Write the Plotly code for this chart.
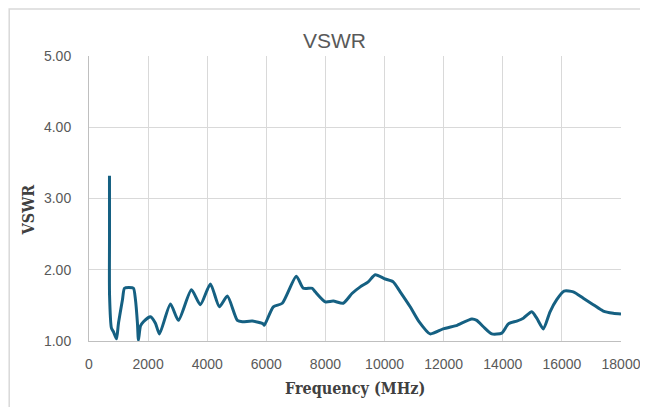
import plotly.graph_objects as go

freq_mhz = [693, 694, 695, 760, 828, 930, 997, 1132, 1200, 1350, 1504, 1572, 1639, 1673,
            1741, 1842, 2079, 2248, 2383, 2755, 3025, 3465, 3769, 4107, 4411, 4681,
            5019, 5188, 5526, 5898, 5932, 6236, 6540, 7014, 7250, 7554, 7656, 7994,
            8264, 8602, 8906, 9177, 9447, 9684, 10022, 10292, 10529, 10867, 11137,
            11543, 11982, 12456, 12557, 12952, 13121, 13344, 13628, 13966, 14189,
            14473, 14696, 14980, 15149, 15372, 15599, 15825, 16072, 16386, 16724,
            17062, 17400, 17738, 18000]
vswr = [3.32, 2.47, 1.65, 1.18, 1.13, 1.03, 1.25, 1.58, 1.74, 1.75, 1.74, 1.58, 1.25, 1.01,
        1.21, 1.27, 1.34, 1.25, 1.10, 1.52, 1.29, 1.72, 1.51, 1.80, 1.48, 1.63,
        1.29, 1.27, 1.28, 1.24, 1.22, 1.48, 1.53, 1.91, 1.74, 1.74, 1.69, 1.55,
        1.56, 1.53, 1.67, 1.76, 1.83, 1.93, 1.87, 1.83, 1.69, 1.48, 1.29,
        1.10, 1.17, 1.22, 1.24, 1.31, 1.29, 1.20, 1.10, 1.11, 1.24,
        1.28, 1.32, 1.41, 1.32, 1.17, 1.41, 1.58, 1.70, 1.69, 1.60,
        1.51, 1.42, 1.39, 1.38]

x_ticks = [0, 2000, 4000, 6000, 8000, 10000, 12000, 14000, 16000, 18000]
y_ticks = [1, 2, 3, 4, 5]

LINE_COLOR = '#156082'
GRID = '#d9d9d9'
TICK_FONT = dict(family='Liberation Sans Narrow, Liberation Sans, Arial', size=14, color='#595959')
LABEL_FONT = dict(family='DejaVu Serif Condensed, Liberation Serif', size=16, color='#404040')

fig = go.Figure()

fig.add_trace(go.Scatter(
    x=freq_mhz,
    y=vswr,
    mode='lines',
    line=dict(color=LINE_COLOR, width=3, shape='spline', smoothing=0.6),
    showlegend=False,
))

fig.update_xaxes(
    range=[0, 18000],
    tickvals=x_ticks,
    tickformat='d',
    ticks='outside', ticklen=10, tickcolor='rgba(0,0,0,0)',
    tickfont=TICK_FONT,
    ticklabeloverflow='allow',
    automargin=False,
    showgrid=True, gridcolor=GRID, gridwidth=1,
    showline=True, linecolor='#bfbfbf', linewidth=1,
    zeroline=False,
)
fig.update_yaxes(
    range=[1, 5],
    tickvals=y_ticks,
    tickformat='.2f',
    ticks='outside', ticklen=14, tickcolor='rgba(0,0,0,0)',
    tickfont=TICK_FONT,
    automargin=False,
    showgrid=True, gridcolor=GRID, gridwidth=1,
    showline=True, linecolor='#bfbfbf', linewidth=1,
    zeroline=False,
)

# chart-area border (Excel style), cropped at right and bottom
fig.add_shape(type='rect', xref='paper', yref='paper',
              x0=-0.150, y0=-0.6, x1=1.3, y1=1.165,
              line=dict(color=GRID, width=1.5), layer='below')

fig.add_annotation(text='VSWR', xref='paper', yref='paper', x=0.462, y=1.056,
                   xanchor='center', yanchor='middle', showarrow=False,
                   font=dict(family='Liberation Sans Narrow, Liberation Sans',
                             size=21, color='#595959'))
fig.add_annotation(text='<b>Frequency (MHz)</b>', xref='paper', yref='paper',
                   x=0.5, y=-0.165, xanchor='center', yanchor='middle',
                   showarrow=False, font=LABEL_FONT)
fig.add_annotation(text='<b>VSWR</b>', xref='paper', yref='paper', x=-0.114, y=0.463,
                   xanchor='center', yanchor='middle', textangle=-90,
                   showarrow=False, font=LABEL_FONT)

# page body adds an 8px offset, figure fills the rest of the window
fig.update_layout(
    width=640, height=399,
    margin=dict(l=81, r=27, t=48, b=66),
    plot_bgcolor='white',
    paper_bgcolor='white',
)

fig.write_html("out.html")
